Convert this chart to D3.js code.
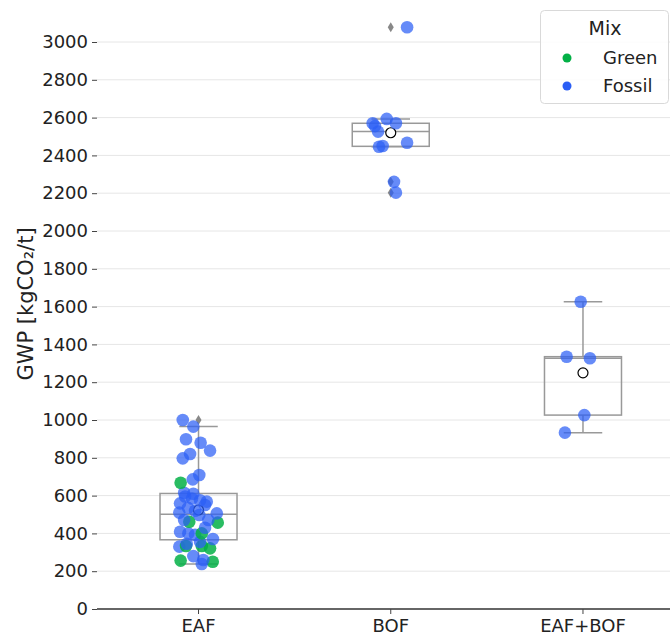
<!DOCTYPE html>
<html>
<head>
<meta charset="utf-8">
<script src="https://cdn.jsdelivr.net/npm/d3@7"></script>
<style>
  body { margin: 0; background: #fff; }
  svg { display: block; }
  text { font-family: "DejaVu Sans", sans-serif; }
</style>
</head>
<body>
<svg id="chart" width="670" height="639"></svg>
<script>
// categories and tick values
const categories = ['EAF', 'BOF', 'EAF+BOF']
const yTicks = [0, 200, 400, 600, 800, 1000, 1200, 1400, 1600, 1800, 2000, 2200, 2400, 2600, 2800, 3000]
const mixNames = ['Green', 'Fossil']

// EAF samples (value, mix, jitter as fraction of category step)
const eafValues = [238, 250, 256, 259, 280, 321, 330, 333, 333, 345, 355,
  370, 392, 400, 400, 409, 430, 457, 462, 471, 471, 497,
  506, 510, 520, 535, 550, 559, 568, 575, 585, 595, 610,
  615, 668, 686, 709, 797, 820, 838, 880, 898, 965, 1000]
const eafMix = ['Fossil', 'Green', 'Green', 'Fossil', 'Fossil', 'Green', 'Fossil', 'Green', 'Green', 'Fossil', 'Fossil',
  'Fossil', 'Fossil', 'Fossil', 'Green', 'Fossil', 'Fossil', 'Green', 'Green', 'Fossil', 'Fossil', 'Fossil',
  'Fossil', 'Fossil', 'Fossil', 'Fossil', 'Fossil', 'Fossil', 'Fossil', 'Fossil', 'Fossil', 'Fossil', 'Fossil',
  'Fossil', 'Green', 'Fossil', 'Fossil', 'Fossil', 'Fossil', 'Fossil', 'Fossil', 'Fossil', 'Fossil', 'Fossil']
const eafJitter = [0.017, 0.074, -0.093, 0.025, -0.027, 0.060, -0.100, -0.065, 0.017, -0.061, 0.008,
  0.075, -0.018, -0.053, 0.017, -0.096, 0.034, 0.100, -0.048, -0.075, 0.051, 0.004,
  0.095, -0.100, -0.018, -0.055, 0.034, -0.096, 0.043, 0.008, -0.034, -0.070, -0.027,
  -0.075, -0.093, -0.030, 0.004, -0.082, -0.044, 0.060, 0.011, -0.065, -0.027, -0.082]

// BOF samples
const bofValues = [2203, 2260, 2446, 2450, 2467, 2526, 2555, 2570, 2570, 2593, 3078]
const bofMix = ['Fossil', 'Fossil', 'Fossil', 'Fossil', 'Fossil', 'Fossil', 'Fossil', 'Fossil', 'Fossil', 'Fossil', 'Fossil']
const bofJitter = [0.027, 0.017, -0.061, -0.042, 0.085, -0.066, -0.082, -0.094, 0.027, -0.021, 0.085]

// EAF+BOF samples
const mixedValues = [933, 1026, 1327, 1335, 1626]
const mixedMix = ['Fossil', 'Fossil', 'Fossil', 'Fossil', 'Fossil']
const mixedJitter = [-0.094, 0.007, 0.036, -0.085, -0.012]

const colors = { Green: '#03b046', Fossil: '#2b5ef5' }

const groups = [
  { cat: 'EAF', values: eafValues, mix: eafMix, jitter: eafJitter },
  { cat: 'BOF', values: bofValues, mix: bofMix, jitter: bofJitter },
  { cat: 'EAF+BOF', values: mixedValues, mix: mixedMix, jitter: mixedJitter }
]

const svg = d3.select('#chart')
const plotLeft = 97, plotRight = 670

const x = d3.scaleBand().domain(categories).range([102.4, 679.1])
const y = d3.scaleLinear().domain([0, 3000]).range([609, 42])

// gridlines
svg.append('g')
  .selectAll('line')
  .data(yTicks.slice(1))
  .join('line')
  .attr('x1', plotLeft).attr('x2', plotRight)
  .attr('y1', d => y(d)).attr('y2', d => y(d))
  .attr('stroke', '#e6e6e6').attr('stroke-width', 1)

// y axis (no domain line)
const yAxis = svg.append('g')
  .attr('transform', `translate(${plotLeft},0)`)
  .call(d3.axisLeft(y).tickValues(yTicks).tickFormat(d3.format('d')).tickSize(5).tickPadding(4))
yAxis.select('.domain').remove()
yAxis.selectAll('line').attr('stroke', '#444')
yAxis.selectAll('text').attr('font-size', 18).attr('fill', '#222').attr('font-family', 'DejaVu Sans')

// x axis
svg.append('line')
  .attr('x1', plotLeft).attr('x2', plotRight)
  .attr('y1', y(0)).attr('y2', y(0))
  .attr('stroke', '#333').attr('stroke-width', 1.3)
const xAxis = svg.append('g')
  .attr('transform', `translate(0,${y(0)})`)
  .call(d3.axisBottom(x).tickSize(5).tickPadding(5))
xAxis.select('.domain').remove()
xAxis.selectAll('line').attr('stroke', '#444')
xAxis.selectAll('text').attr('font-size', 18).attr('fill', '#222').attr('font-family', 'DejaVu Sans')

svg.append('text')
  .attr('transform', 'translate(33,304) rotate(-90)')
  .attr('text-anchor', 'middle')
  .attr('font-family', '"DejaVu Sans", sans-serif')
  .attr('font-size', 21)
  .attr('fill', '#222')
  .text('GWP [kgCO₂/t]')

// boxes
const boxW = 77
const boxGray = '#999999'
groups.forEach(g => {
  const s = g.values.slice().sort(d3.ascending)
  const q1 = d3.quantile(s, 0.25), med = d3.quantile(s, 0.5), q3 = d3.quantile(s, 0.75)
  const iqr = q3 - q1
  const lo = d3.min(s.filter(v => v >= q1 - 1.5 * iqr))
  const hi = d3.max(s.filter(v => v <= q3 + 1.5 * iqr))
  const fliers = s.filter(v => v < lo || v > hi)
  const cx = x(g.cat) + x.bandwidth() / 2
  const b = svg.append('g').attr('stroke', boxGray).attr('stroke-width', 1.5).attr('fill', 'none')
  b.append('rect').attr('x', cx - boxW / 2).attr('y', y(q3)).attr('width', boxW).attr('height', y(q1) - y(q3))
  b.append('line').attr('x1', cx - boxW / 2).attr('x2', cx + boxW / 2).attr('y1', y(med)).attr('y2', y(med))
  b.append('line').attr('x1', cx).attr('x2', cx).attr('y1', y(q3)).attr('y2', y(hi))
  b.append('line').attr('x1', cx).attr('x2', cx).attr('y1', y(q1)).attr('y2', y(lo))
  b.append('line').attr('x1', cx - boxW / 4).attr('x2', cx + boxW / 4).attr('y1', y(hi)).attr('y2', y(hi))
  b.append('line').attr('x1', cx - boxW / 4).attr('x2', cx + boxW / 4).attr('y1', y(lo)).attr('y2', y(lo))
  svg.append('g').selectAll('path')
    .data(fliers)
    .join('path')
    .attr('transform', d => `translate(${cx},${y(d)})`)
    .attr('d', 'M0,-5L3,0L0,5L-3,0Z')
    .attr('fill', '#888')
  svg.append('circle')
    .attr('cx', cx).attr('cy', y(d3.mean(s))).attr('r', 5)
    .attr('fill', '#fff').attr('stroke', '#000').attr('stroke-width', 1.2)
})

// strip points
groups.forEach(g => {
  const cx = x(g.cat) + x.bandwidth() / 2
  svg.append('g').selectAll('circle')
    .data(g.values.map((v, i) => ({ v, mix: g.mix[i], j: g.jitter[i] })))
    .join('circle')
    .attr('cx', d => cx + d.j * x.step())
    .attr('cy', d => y(d.v))
    .attr('r', 6.3)
    .attr('fill', d => colors[d.mix])
    .attr('fill-opacity', d => d.mix === 'Green' ? 0.85 : 0.72)
})

// legend
const legend = svg.append('g').attr('transform', 'translate(540,10)')
legend.append('rect')
  .attr('x', 0.5).attr('y', 0.5).attr('width', 128).attr('height', 93).attr('rx', 4)
  .attr('fill', '#fff').attr('fill-opacity', 0.85).attr('stroke', '#d9d9d9')
legend.append('text').attr('x', 65).attr('y', 25).attr('text-anchor', 'middle')
  .attr('font-size', 19).attr('fill', '#222').text('Mix')
mixNames.forEach((m, i) => {
  legend.append('circle').attr('cx', 27).attr('cy', 48 + i * 28).attr('r', 4.5).attr('fill', colors[m])
  legend.append('text').attr('x', 63).attr('y', 54 + i * 28)
    .attr('font-size', 18).attr('fill', '#222').text(m)
})
</script>
</body>
</html>
